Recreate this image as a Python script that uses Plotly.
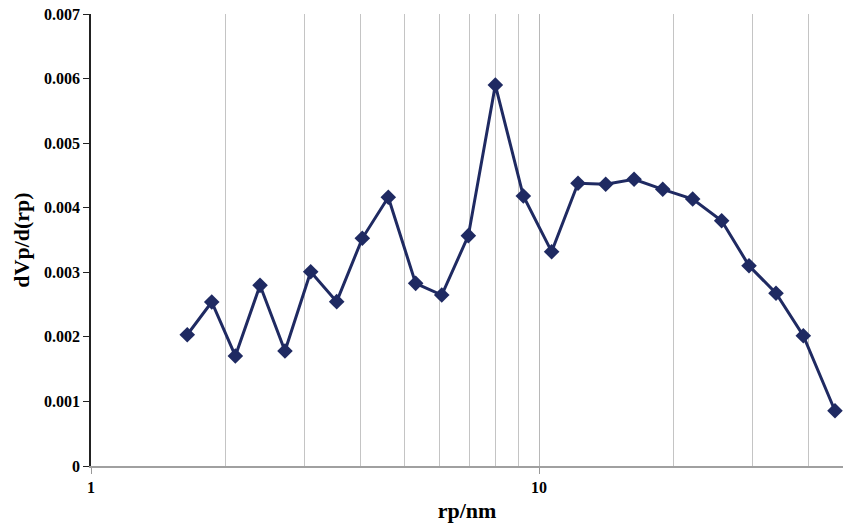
import plotly.graph_objects as go

rp_nm = [1.640, 1.860, 2.100, 2.384, 2.710, 3.093, 3.535, 4.033, 4.609, 5.305,
         6.066, 6.955, 7.990, 9.226, 10.67, 12.22, 14.09, 16.30, 18.89, 22.03,
         25.57, 29.43, 33.81, 38.90, 45.78]
dvp_drp = [0.002033, 0.002540, 0.001704, 0.002798, 0.001781, 0.003009, 0.002545,
           0.003526, 0.004161, 0.002829, 0.002648, 0.003567, 0.005900, 0.004181,
           0.003319, 0.004378, 0.004363, 0.004440, 0.004285, 0.004135, 0.003797,
           0.003102, 0.002675, 0.002018, 0.000856]

x_major_ticks = [1, 10]
x_grid_vals = [2, 3, 4, 5, 6, 7, 8, 9, 20, 30, 40]
y_ticks = [0, 0.001, 0.002, 0.003, 0.004, 0.005, 0.006, 0.007]
y_tick_text = ["0", "0.001", "0.002", "0.003", "0.004", "0.005", "0.006", "0.007"]

navy = "#1f2a62"
font_family = "Liberation Serif, Times New Roman, serif"

fig = go.Figure()
fig.add_trace(go.Scatter(
    x=rp_nm, y=dvp_drp, mode="lines+markers",
    line=dict(color=navy, width=3),
    marker=dict(symbol="diamond", size=12, color=navy),
    showlegend=False,
))

fig.update_layout(
    width=843, height=528,
    margin=dict(l=91, r=0, t=14, b=62),
    plot_bgcolor="white", paper_bgcolor="white",
    font=dict(family=font_family, color="black"),
    xaxis=dict(
        type="log", range=[0, 752 / 448],
        tickmode="array", tickvals=x_major_ticks, ticktext=["1", "10"],
        ticks="outside", ticklen=6, tickcolor="#999999",
        tickfont=dict(size=16, family=font_family, weight="bold"),
        showline=True, linecolor="#a0a0a0", linewidth=1.5,
        showgrid=True, gridcolor="#b8b8b8", gridwidth=1,
        minor=dict(tickmode="array", tickvals=x_grid_vals, showgrid=True,
                   gridcolor="#c4c4c4", gridwidth=1, ticks=""),
        zeroline=False,
        title=dict(text="rp/nm", font=dict(size=22, family=font_family, weight="bold"),
                   standoff=8),
    ),
    yaxis=dict(
        range=[0, 0.007],
        tickmode="array", tickvals=y_ticks, ticktext=y_tick_text,
        ticks="outside", ticklen=6, tickcolor="#222222",
        tickfont=dict(size=16, family=font_family, weight="bold"),
        showline=True, linecolor="#222222", linewidth=1.5,
        showgrid=False, zeroline=False,
        title=dict(text="dVp/d(rp)", font=dict(size=22, family=font_family, weight="bold"),
                   standoff=8),
    ),
)

fig.write_html("out.html")
